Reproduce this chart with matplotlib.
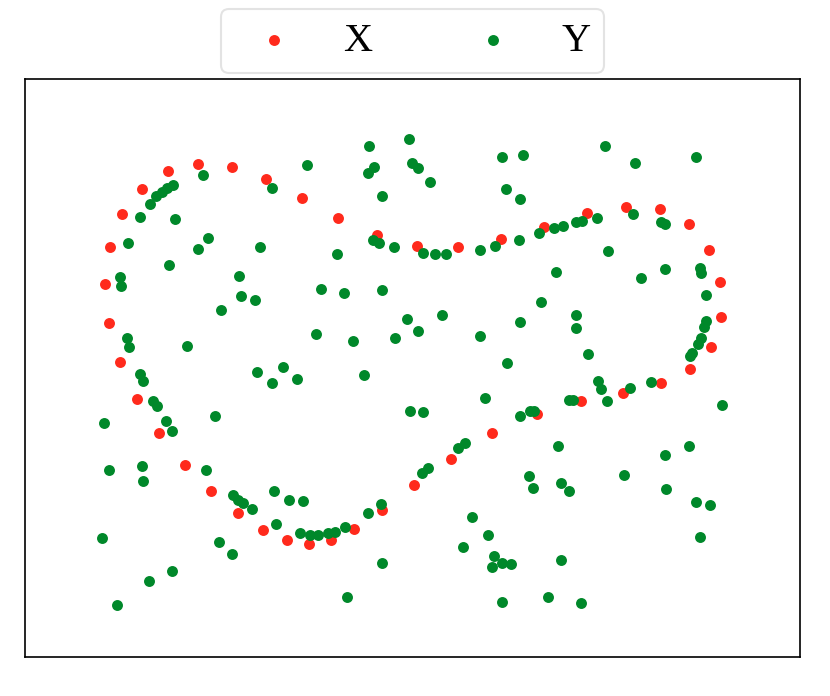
import matplotlib
matplotlib.use("Agg")
import matplotlib.pyplot as plt

# Series X (red)
x_red = [198, 232, 266, 302, 338, 377, 417, 458, 501, 544, 587, 626, 660, 689, 709, 720, 721, 711,
         690, 661, 623, 581, 537, 492, 451, 414, 382, 354, 331, 309, 287, 263, 238, 211, 185, 159,
         137, 120, 109, 105, 110, 122, 142, 168]
y_red = [164, 167, 179, 198, 218, 235, 246, 247, 239, 227, 213, 207, 209, 224, 250, 282, 317, 347,
         369, 383, 393, 401, 414, 433, 459, 485, 510, 529, 540, 544, 540, 530, 513, 491, 465, 433,
         399, 362, 323, 284, 247, 214, 189, 171]

# Series Y (green)
x_green = [307, 203, 272, 173, 167, 162, 156, 150, 140, 175, 128, 208, 198, 260, 337, 169, 239, 120,
           121, 321, 241, 255, 221, 316, 127, 129, 187, 140, 143, 257, 283, 297, 272,
           369, 409, 368, 374, 412, 418, 430, 382, 502, 523, 506, 520, 373, 379, 394, 423, 435, 446,
           480, 495, 519, 539, 554, 563, 576, 556, 344, 382, 407, 442, 418, 395, 353, 480, 541, 520,
           576, 576, 507, 364,
           605, 635, 696, 582, 597, 633, 661, 665, 608, 665, 641, 700, 701, 706, 706, 704, 701, 698,
           692, 690, 588,
           598, 601, 607, 573, 569, 630, 651, 722, 689, 665, 624, 666, 696, 710, 700, 581,
           485, 410, 423, 520, 530, 534, 558, 465, 458, 428, 422, 529, 533, 561, 569, 472, 381, 368,
           345, 488, 463, 494, 492, 502, 511, 561, 382, 347, 502, 548,
           153, 157, 215, 104, 166, 172, 109, 142, 143, 206, 233, 238, 243, 252, 274, 289, 303, 276,
           102, 219, 232, 300, 310, 318, 328, 335, 172, 149, 117]
y_green = [165, 175, 188, 185, 188, 192, 196, 204, 217, 219, 243, 238, 249, 247, 254, 265, 276, 277,
           286, 289, 296, 300, 310, 334, 338, 347, 346, 374, 381, 372, 367, 379, 383,
           146, 139, 173, 167, 163, 168, 182, 196, 157, 155, 189, 199, 240, 243, 247, 253, 254, 254,
           250, 246, 240, 233, 228, 226, 222, 272, 293, 290, 319, 315, 331, 338, 341, 336, 302, 322,
           315, 328, 363, 375,
           146, 163, 157, 221, 218, 214, 222, 224, 251, 269, 278, 268, 273, 295, 321, 327, 338, 344,
           353, 356, 354,
           381, 389, 401, 400, 400, 388, 382, 405, 446, 455, 475, 489, 502, 505, 537, 603,
           398, 411, 412, 416, 411, 411, 446, 443, 448, 468, 473, 476, 488, 483, 491, 517, 504, 513,
           527, 535, 547, 556, 567, 563, 564, 560, 563, 597, 602, 597,
           401, 406, 416, 423, 421, 431, 470, 466, 481, 470, 495, 500, 503, 509, 491, 500, 501, 524,
           538, 542, 554, 533, 535, 535, 533, 532, 571, 581, 605]

labels = ["X", "Y"]

fig = plt.figure(figsize=(8.3, 6.96), dpi=100)
ax = fig.add_axes([25 / 830, 39 / 696, 775 / 830, 578 / 696])

ax.scatter(x_red, y_red, s=62, color="#ff2a1c", linewidths=0, label=labels[0], zorder=2)
ax.scatter(x_green, y_green, s=62, color="#00882a", linewidths=0, label=labels[1], zorder=3)

ax.set_xlim(25, 800)
ax.set_ylim(657, 79)
ax.set_xticks([])
ax.set_yticks([])
for sp in ax.spines.values():
    sp.set_linewidth(1.2)
    sp.set_color("black")

leg = ax.legend(loc="lower center", bbox_to_anchor=(0.5, 1.0), ncol=2,
                prop={"family": "Liberation Serif", "size": 29},
                frameon=True, fancybox=True, edgecolor="#dddddd",
                handletextpad=0.7, columnspacing=2.02, borderpad=0.33,
                borderaxespad=0.15, scatterpoints=1, markerscale=1.0)
leg.get_frame().set_linewidth(1.5)

fig.savefig("out.png", dpi=100, facecolor="white")
